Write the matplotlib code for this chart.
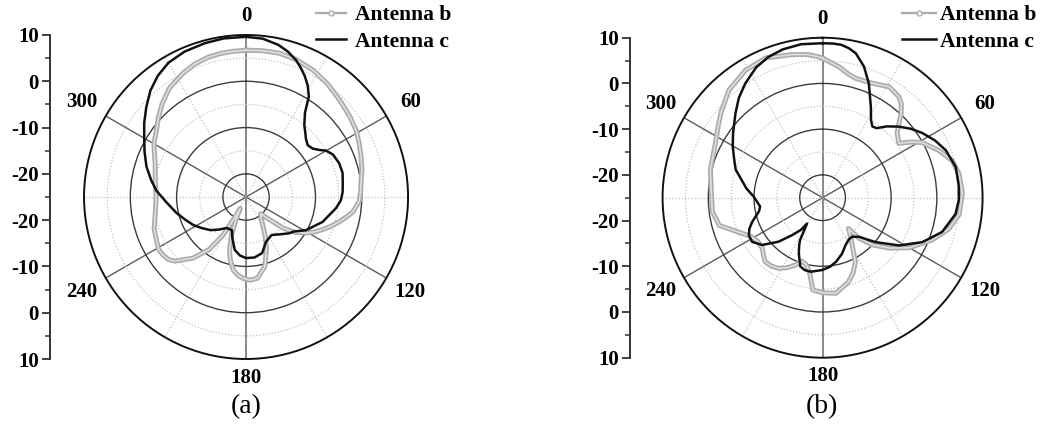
import numpy as np
import matplotlib.pyplot as plt
from matplotlib.lines import Line2D

plt.rcParams['font.family'] = ['Liberation Serif', 'DejaVu Serif']

# ---- radiation pattern data (angle in degrees, gain in dB) ----
# (a) Antenna b
ang_a_b = [0, 6, 13, 20, 28, 36, 44, 52, 59, 65, 71, 77, 82, 87, 92, 98, 101, 105,
           109, 113, 117, 121, 126, 130, 134, 139, 144, 150, 155, 159, 165, 172,
           177, 182, 186, 190, 194, 197, 201, 204, 207, 209, 211, 215, 221, 228,
           231, 235, 239, 243, 251, 260, 270, 280, 290, 300, 307, 312, 318, 325,
           333, 339, 345, 350, 355]
gain_a_b = [6.7, 6.8, 6.9, 6.6, 6.0, 5.1, 4.1, 3.4, 2.8, 2.0, 1.3, 0.7, 0.1, -0.2,
            -0.5, -1.7, -2.8, -4.2, -5.6, -7.0, -8.4, -9.9, -12.0, -14.6, -18.0,
            -20.2, -19.5, -17.6, -15.0, -12.7, -9.4, -7.3, -7.0, -7.4, -8.0, -9.0,
            -11.0, -12.8, -16.2, -19.8, -22.2, -19.8, -15.5, -11.2, -7.5, -4.3,
            -3.5, -3.1, -3.0, -3.4, -4.0, -5.1, -5.6, -5.1, -4.1, -2.0, -0.8, 0.5,
            2.1, 3.8, 5.0, 5.8, 6.3, 6.5, 6.6]

# (a) Antenna c
ang_a_c = [0, 6, 12, 16, 20, 23, 26, 29, 32, 35, 39, 43, 46, 50, 54, 57, 60, 64,
           70, 76, 82, 87, 92, 97, 108, 119, 126, 130, 137, 146, 156, 164, 172,
           180, 186, 192, 198, 203, 212, 220, 227, 235, 242, 250, 257, 266, 274,
           280, 287, 294, 300, 306, 312, 318, 324, 330, 337, 345, 352]
gain_a_c = [9.6, 9.4, 8.6, 7.7, 6.5, 5.3, 4.0, 2.5, 0.6, -2.8, -5.0, -6.2, -7.0,
            -7.6, -7.2, -6.3, -5.0, -4.1, -3.6, -3.5, -3.9, -4.1, -4.5, -5.4, -7.6,
            -10.2, -12.3, -12.8, -14.0, -15.1, -14.4, -12.4, -11.8, -11.8, -12.3,
            -13.3, -15.5, -17.2, -17.1, -15.8, -14.5, -13.3, -12.1, -10.9, -9.6,
            -7.8, -5.6, -4.2, -2.5, -1.0, 0.4, 2.2, 4.0, 5.9, 7.4, 8.5, 9.1, 9.4, 9.6]

# (b) Antenna b
ang_b_b = [0, 7, 12, 15.5, 23.5, 31, 37, 40, 43, 46, 49, 54.5, 58, 61, 68, 74, 80,
           88, 97, 104, 111, 120, 127, 133.5, 138, 140, 145, 153, 158, 163, 172,
           180, 186, 190, 194, 198, 202, 207, 212, 217, 222, 226, 230, 236, 242,
           249, 255, 263, 271, 284, 297, 304, 310, 319, 329, 338, 348, 354, 358]
gain_b_b = [5.5, 3.9, 2.6, 2.1, 2.3, 3.3, 2.7, 1.8, 0.2, -1.8, -3.4, -4.5, -2.0,
            -0.1, 2.5, 4.5, 5.3, 5.6, 5.1, 3.4, 0.7, -3.1, -6.7, -10.0, -13.1,
            -16.2, -14.2, -9.2, -7.2, -5.7, -3.9, -4.2, -4.7, -8.5, -10.0, -10.4,
            -9.1, -7.8, -6.8, -6.3, -6.2, -7.0, -7.8, -7.9, -7.1, -4.6, -1.6, -0.7,
            -0.7, 0.3, 1.3, 2.6, 4.0, 6.2, 7.6, 8.0, 7.0, 6.5, 5.9]

# (b) Antenna c
ang_b_c = [0, 4, 7, 10, 13, 17.5, 22, 28, 32, 35, 38, 42, 47, 52, 57, 63, 69, 77,
           85, 91, 97, 106, 114, 122, 130, 137, 143, 148, 154, 161, 168, 174, 180,
           189, 194, 198, 203, 206, 208, 211, 214, 219, 225, 232, 238, 243, 247,
           251, 255, 258, 262, 266, 271, 277, 288, 294, 300, 306, 314, 320, 326,
           333, 339, 345, 352]
gain_b_c = [8.8, 8.8, 8.7, 8.2, 7.4, 5.1, 2.0, -2.5, -5.0, -6.0, -5.7, -4.0, -2.2,
            -0.5, 1.0, 2.6, 3.9, 4.9, 4.9, 4.8, 4.3, 2.2, -1.1, -5.3, -9.9, -13.3,
            -14.3, -14.2, -13.5, -12.0, -10.7, -9.8, -9.2, -8.6, -8.7, -9.2, -11.7,
            -13.3, -14.5, -18.4, -16.5, -14.5, -11.4, -8.2, -6.8, -6.9, -7.6, -8.7,
            -10.0, -10.8, -11.2, -10.7, -9.9, -8.2, -5.0, -3.8, -2.3, -0.8, 1.5,
            3.5, 5.2, 7.0, 8.0, 8.6, 8.9]

r_ticks = [10, 0, -10, -20, -20, -10, 0, 10]
theta_labels = ['0', '60', '120', '180', '240', '300']

GRAY = '#ababab'
GRAY_IN = '#dedede'
BLACK = '#111111'
TICK_FONT = dict(family='Liberation Serif', weight='bold', size=15)


def closed(ang, gain):
    t = np.deg2rad(np.append(ang, ang[0]))
    g = np.append(gain, gain[0])
    return t, g


def polar_panel(rect, ang_b, gain_b, ang_c, gain_c):
    ax = fig.add_axes(rect, projection='polar')
    ax.set_theta_zero_location('N')
    ax.set_theta_direction(-1)
    ax.set_ylim(-25, 10)

    # grid: solid circles every 10 dB, dotted in between
    ax.set_rgrids([-20, -15, -10, -5, 0, 5], labels=[''] * 6)
    for tick, val in zip(ax.yaxis.get_major_ticks(), [-20, -15, -10, -5, 0, 5]):
        gl = tick.gridline
        if val % 10 == 0:
            gl.set(color='#3c3c3c', linestyle='-', linewidth=1.0)
        else:
            gl.set(color='#c4c4c4', linestyle=(0, (1, 1.5)), linewidth=0.9)
    ax.set_thetagrids(np.arange(0, 360, 30), labels=[''] * 12)
    for tick, val in zip(ax.xaxis.get_major_ticks(), np.arange(0, 360, 30)):
        gl = tick.gridline
        if val % 180 == 0:
            gl.set(color='#808080', linestyle='-', linewidth=1.3)
        elif val % 60 == 0:
            gl.set(color='#5a5a5a', linestyle='-', linewidth=1.0)
        else:
            gl.set(color='#c4c4c4', linestyle=(0, (1, 1.5)), linewidth=0.9)
    ax.tick_params(axis='x', length=0, pad=0)
    ax.spines['polar'].set(color='#111111', linewidth=1.4)

    for val, lab in zip(range(0, 360, 60), theta_labels):
        rr = 14.0 if val % 180 == 0 else 16.0
        ax.text(np.deg2rad(val), rr, lab, ha='center', va='center',
                clip_on=False, **TICK_FONT)

    t, g = closed(ang_b, gain_b)
    ax.plot(t, g, color=GRAY, linewidth=3.6, solid_joinstyle='round', zorder=3)
    ax.plot(t, g, color=GRAY_IN, linewidth=1.2, solid_joinstyle='round', zorder=3)
    t, g = closed(ang_c, gain_c)
    ax.plot(t, g, color=BLACK, linewidth=1.8, solid_joinstyle='round', zorder=4)
    return ax


def scale_axis(rect):
    sx = fig.add_axes(rect)
    sx.set_facecolor('none')
    sx.set_ylim(-35, 35)
    sx.set_xticks([])
    for s in ['top', 'right', 'bottom']:
        sx.spines[s].set_visible(False)
    sx.spines['left'].set(color='#333333', linewidth=1.4)
    sx.set_yticks(np.arange(35, -36, -10))
    sx.set_yticklabels([str(v) for v in r_ticks])
    sx.set_yticks(np.arange(30, -31, -10), minor=True)
    sx.tick_params(axis='y', which='major', direction='out', length=6, width=1.3,
                   color='#333333', pad=2)
    sx.tick_params(axis='y', which='minor', direction='out', length=3.5, width=1.1,
                   color='#333333')
    for lab in sx.get_yticklabels():
        lab.set(**TICK_FONT)
    return sx


def add_legend(ax, x, y, hl, pad):
    handles = [Line2D([], [], color=GRAY, linewidth=1.6, marker='o', markersize=3.5,
                      markerfacecolor='white', markeredgecolor=GRAY),
               Line2D([], [], color=BLACK, linewidth=1.8)]
    leg = ax.legend(handles, ['Antenna b', 'Antenna c'], loc='upper left',
                    bbox_to_anchor=(x, y), bbox_transform=fig.transFigure,
                    frameon=False, borderpad=0, borderaxespad=0, handlelength=hl,
                    handletextpad=pad, labelspacing=0.3, numpoints=1,
                    prop=dict(family='Liberation Serif', weight='bold', size=15.5))
    return leg


fig = plt.figure(figsize=(10.49, 4.33), dpi=100)

ax_a = polar_panel([0.0801, 0.1709, 0.3089, 0.7483], ang_a_b, gain_a_b, ang_a_c, gain_a_c)
scale_axis([0.0477, 0.1709, 0.0005, 0.7483])
add_legend(ax_a, 0.3012, 0.988, 1.4, 0.4)

ax_b = polar_panel([0.6316, 0.1739, 0.3051, 0.739], ang_b_b, gain_b_b, ang_b_c, gain_b_c)
scale_axis([0.6006, 0.1739, 0.0005, 0.739])
add_legend(ax_b, 0.8599, 0.988, 1.6, 0.15)

fig.text(246 / 1049, 1 - 407 / 433, '(a)', ha='center', va='center',
         family='Liberation Serif', size=20)
fig.text(822 / 1049, 1 - 407 / 433, '(b)', ha='center', va='center',
         family='Liberation Serif', size=20)

fig.savefig('out.png', dpi=100, facecolor='white')
